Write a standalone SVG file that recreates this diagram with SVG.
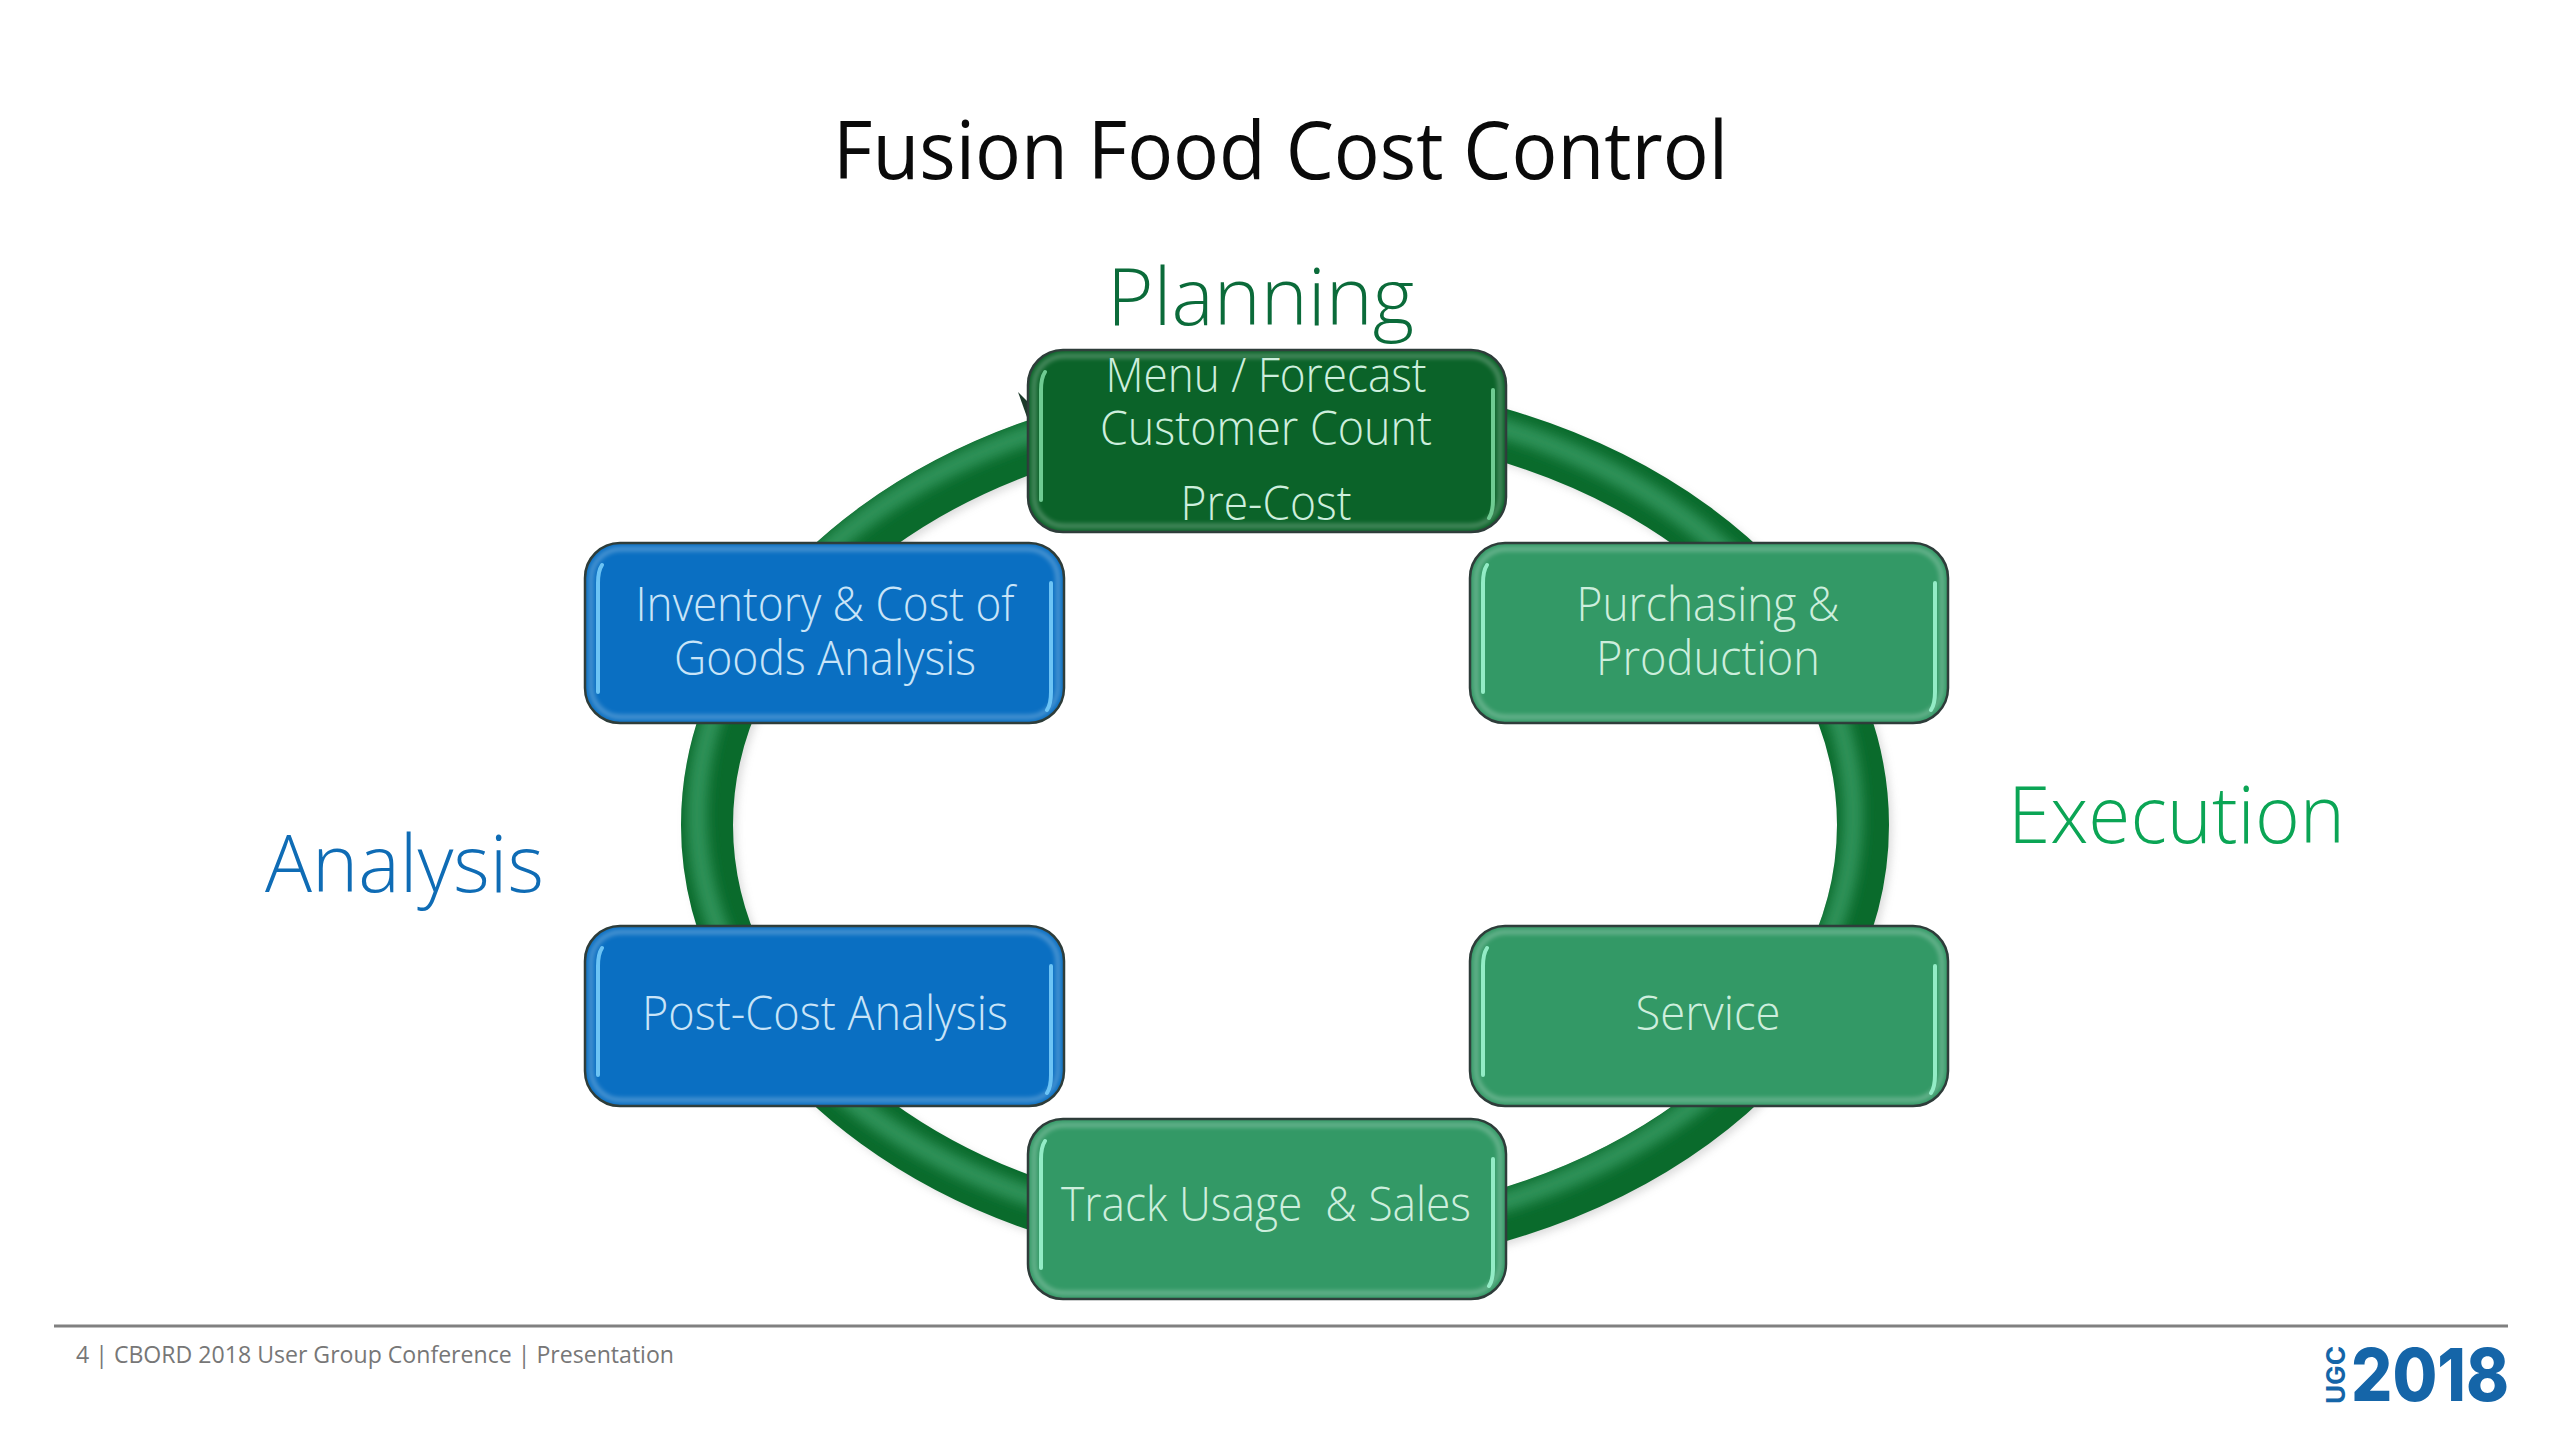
<svg xmlns="http://www.w3.org/2000/svg" width="2560" height="1440" viewBox="0 0 2560 1440">
<style>
text{font-family:"Open Sans","Noto Sans","Liberation Sans",sans-serif}
.title{font-size:80px;fill:#0a0a0a;font-weight:400}
.phase{font-size:80px;font-weight:300}
.lbl{font-size:47px;font-weight:300;fill:#cdeedd;text-anchor:middle}
.blue .lbl{fill:#c8e4f8}
.box{stroke:#2c3b38;stroke-width:2.5}
.green .box{fill:#339966}
.dark .box{fill:#0b6329}
.blue .box{fill:#0a6fc2}
.hl{fill:none;stroke-width:4;stroke-linecap:round}
.green .hl{stroke:#93ecc6}
.dark .hl{stroke:#6fcb92}
.blue .hl{stroke:#6cc4f5}
.edge{fill:none;stroke-width:5;stroke:#fff;opacity:.25;filter:url(#soft)}
.foot{font-size:24.5px;fill:#777}
</style>
<defs>
<filter id="soft" x="-10%" y="-10%" width="120%" height="120%"><feGaussianBlur stdDeviation="2"/></filter>
<filter id="ringsoft" x="-10%" y="-10%" width="120%" height="120%"><feGaussianBlur stdDeviation="6"/></filter>
<filter id="shadow" x="-10%" y="-10%" width="120%" height="120%"><feGaussianBlur stdDeviation="4"/></filter>
<clipPath id="ringclip"><path clip-rule="evenodd" d="M681 825a604 447 0 1 0 1208 0a604 447 0 1 0 -1208 0ZM733 825a552 395 0 1 0 1104 0a552 395 0 1 0 -1104 0Z"/></clipPath>
</defs>
<rect width="2560" height="1440" fill="#fff"/>
<text class="title" x="833" y="179" textLength="895" lengthAdjust="spacingAndGlyphs">Fusion Food Cost Control</text>
<text class="phase" x="1107" y="325" fill="#0b6b3a" textLength="307" lengthAdjust="spacingAndGlyphs">Planning</text>
<text class="phase" x="2008" y="843" fill="#0ba555" textLength="337" lengthAdjust="spacingAndGlyphs">Execution</text>
<text class="phase" x="265" y="892" fill="#0f6cb5" textLength="279" lengthAdjust="spacingAndGlyphs">Analysis</text>
<g id="connectors">
<ellipse cx="1289" cy="829" rx="578" ry="421" fill="none" stroke="#999" stroke-width="50" opacity=".35" filter="url(#shadow)"/>
<ellipse cx="1285" cy="825" rx="578" ry="421" fill="none" stroke="#0a6b2c" stroke-width="52"/>
<g clip-path="url(#ringclip)">
<ellipse cx="1275" cy="815" rx="578" ry="421" fill="none" stroke="#2f9259" stroke-width="20" filter="url(#ringsoft)"/>
</g>
<polygon points="1018,392 1030,404 1028,420" fill="#1c3a2a"/>
</g>
<g id="node-planning" class="dark">
<rect class="box" x="1028" y="350" width="478" height="182" rx="35"/>
<rect class="edge" x="1034" y="356" width="466" height="170" rx="30"/>
<path class="hl" d="M1045 372Q1041 378 1041 390V500M1493 390V500Q1493 512 1489 518"/>
<text class="lbl" x="1266" y="392" textLength="321" lengthAdjust="spacingAndGlyphs">Menu / Forecast</text>
<text class="lbl" x="1266" y="445" textLength="332" lengthAdjust="spacingAndGlyphs">Customer Count</text>
<text class="lbl" x="1266" y="520" textLength="171" lengthAdjust="spacingAndGlyphs">Pre-Cost</text>
</g>
<g id="node-purchasing" class="green">
<rect class="box" x="1470" y="543" width="478" height="180" rx="35"/>
<rect class="edge" x="1476" y="549" width="466" height="168" rx="30"/>
<path class="hl" d="M1487 565Q1483 571 1483 583V692M1935 583V692Q1935 704 1931 710"/>
<text class="lbl" x="1708" y="621" textLength="263" lengthAdjust="spacingAndGlyphs">Purchasing &amp;</text>
<text class="lbl" x="1708" y="675" textLength="224" lengthAdjust="spacingAndGlyphs">Production</text>
</g>
<g id="node-service" class="green">
<rect class="box" x="1470" y="926" width="478" height="180" rx="35"/>
<rect class="edge" x="1476" y="932" width="466" height="168" rx="30"/>
<path class="hl" d="M1487 948Q1483 954 1483 966V1075M1935 966V1075Q1935 1087 1931 1093"/>
<text class="lbl" x="1708" y="1030" textLength="145" lengthAdjust="spacingAndGlyphs">Service</text>
</g>
<g id="node-track" class="green">
<rect class="box" x="1028" y="1119" width="478" height="180" rx="35"/>
<rect class="edge" x="1034" y="1125" width="466" height="168" rx="30"/>
<path class="hl" d="M1045 1141Q1041 1147 1041 1159V1268M1493 1159V1268Q1493 1280 1489 1286"/>
<text class="lbl" x="1266" y="1221" xml:space="preserve" textLength="410" lengthAdjust="spacingAndGlyphs">Track Usage  &amp; Sales</text>
</g>
<g id="node-postcost" class="blue">
<rect class="box" x="585" y="926" width="479" height="180" rx="35"/>
<rect class="edge" x="591" y="932" width="467" height="168" rx="30"/>
<path class="hl" d="M602 948Q598 954 598 966V1075M1051 966V1075Q1051 1087 1047 1093"/>
<text class="lbl" x="825" y="1030" textLength="366" lengthAdjust="spacingAndGlyphs">Post-Cost Analysis</text>
</g>
<g id="node-inventory" class="blue">
<rect class="box" x="585" y="543" width="479" height="180" rx="35"/>
<rect class="edge" x="591" y="549" width="467" height="168" rx="30"/>
<path class="hl" d="M602 565Q598 571 598 583V692M1051 583V692Q1051 704 1047 710"/>
<text class="lbl" x="825" y="621" textLength="379" lengthAdjust="spacingAndGlyphs">Inventory &amp; Cost of</text>
<text class="lbl" x="825" y="675" textLength="302" lengthAdjust="spacingAndGlyphs">Goods Analysis</text>
</g>
<g id="footer">
<line x1="54" y1="1326" x2="2508" y2="1326" stroke="#808080" stroke-width="3"/>
<text class="foot" x="76" y="1363" textLength="598" lengthAdjust="spacingAndGlyphs">4 | CBORD 2018 User Group Conference | Presentation</text>
<text x="2351" y="1401" font-size="73" font-weight="800" fill="#1565a8" style="font-family:Inter,'Liberation Sans',sans-serif" textLength="158" lengthAdjust="spacingAndGlyphs">2018</text>
<text transform="translate(2345 1404) rotate(-90)" font-size="25" font-weight="700" fill="#1565a8" style="font-family:Inter,'Liberation Sans',sans-serif" textLength="58" lengthAdjust="spacingAndGlyphs">UGC</text>
</g>
</svg>
